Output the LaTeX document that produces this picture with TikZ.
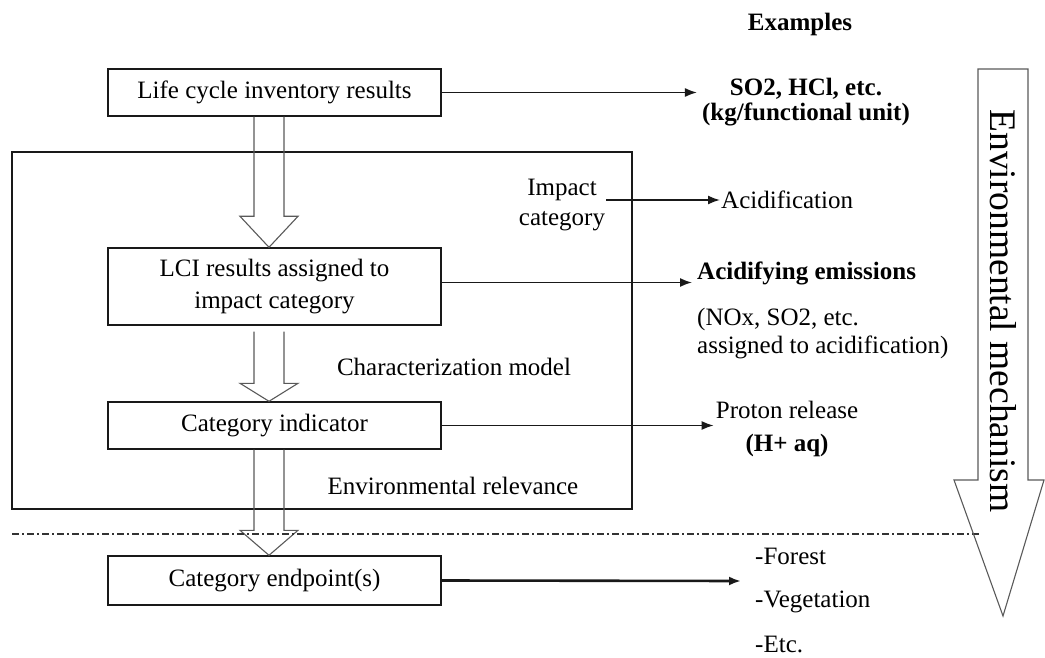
\documentclass[tikz,border=0pt]{standalone}
\usepackage{fontspec}
\setmainfont{Liberation Serif}
\usetikzlibrary{calc,arrows.meta}
\tikzset{
  mainfont/.style={font=\fontsize{25}{#1}\selectfont},
  stagebox/.style={draw=black!90, line width=1.4pt, minimum width=333pt, inner sep=0pt, align=center, mainfont=32},
  txt/.style={inner sep=1pt, mainfont=#1},
  txt/.default=30,
  arr/.style={draw=black!90, line width=1.6pt, -{Latex[length=12pt,width=9pt]}},
  hollowarr/.style={draw=black!65, line width=1.1pt, line join=miter},
  frame/.style={draw=black!90, line width=1.3pt},
  dashdot/.style={draw=black!80, line width=1.1pt, dash pattern=on 7pt off 3pt on 2pt off 3pt},
}
\newcommand{\myhollow}[4]{%
  \draw[hollowarr] ($(#1.south)+(-20.5,#4)$) -- ($(#2.north)+(-20.5,-#3)$)
    -- ($(#2.north)+(-34.5,-#3)$) -- ($(#2.north)+(-5.5,0)$)
    -- ($(#2.north)+(23.5,-#3)$) -- ($(#2.north)+(9.5,-#3)$)
    -- ($(#1.south)+(9.5,#4)$);}
\begin{document}
\begin{tikzpicture}[x=1pt,y=-1pt]
\useasboundingbox (0,0) rectangle (1045,658);

% frame
\draw[frame] (12,152) rectangle (632,509);

% stage boxes
\node[stagebox, minimum height=47pt] (b1) at (274.5,92.5) {Life cycle inventory results};
\node[stagebox, minimum height=77pt] (b2) at (274.5,286.5) {LCI results assigned to\\impact category};
\node[stagebox, minimum height=47pt] (b3) at (274.5,425.5) {Category indicator};
\node[stagebox, minimum height=49pt] (b4) at (274.5,580.5) {Category endpoint(s)};

% hollow arrows
\myhollow{b1}{b2}{31}{0}
\myhollow{b2}{b3}{18}{6}
\myhollow{b3}{b4}{25}{0}

% labels inside frame
\node[txt=30, align=center] (impact) at (562,205) {Impact\\category};
\node[txt] (charmodel) at (454,367) {Characterization model};
\node[txt] (envrel) at (453,486) {Environmental relevance};

% dash-dot separator
\draw[dashdot] (12,534) -- (980,534);

% examples
\node[txt, font=\fontsize{25}{30}\bfseries] (examples) at (800,24) {Examples};
\node[txt=25, align=center, font=\fontsize{25}{25}\bfseries] (so2) at (806,102) {SO2, HCl, etc.\\(kg/functional unit)};
\node[txt, anchor=west] (acid) at (720,200) {Acidification};
\node[txt, anchor=west, font=\fontsize{25}{30}\bfseries] (acidem) at (696,273) {Acidifying emissions};
\node[txt=28, anchor=west, align=left] (nox) at (696,334) {(NOx, SO2, etc.\\assigned to acidification)};
\node[txt=33, align=center] (proton) at (787,429) {Proton release\\\textbf{(H+ aq)}};
\node[txt, anchor=west] (forest) at (754,556) {-Forest};
\node[txt, anchor=west] (veg) at (754,602) {-Vegetation};
\node[txt, anchor=west] (etc) at (754,644) {-Etc.};
\coordinate (etip) at (741,581);

% connectors
\draw[arr] (b1.east) -- ([xshift=-4pt]so2.west |- b1.east);
\draw[arr] (impact.east |- acid.west) -- (acid.west);
\draw[arr] ([yshift=4pt]b2.east) -- ([xshift=-4pt,yshift=4pt]acidem.west |- b2.east);
\draw[arr] (b3.east) -- ([xshift=-1pt]proton.west |- b3.east);
\draw[arr, line width=2.6pt] (b4.east) -- (etip);

% environmental mechanism big arrow
\draw[hollowarr] (978,69) -- (1028,69) -- (1028,480) -- (1044,480) -- (1003,616)
  -- (954,480) -- (978,480) -- cycle;
\node[rotate=-90, inner sep=0pt, font=\fontsize{37.5}{40}\selectfont] (mech) at (1003,311) {Environmental mechanism};
\end{tikzpicture}
\end{document}
